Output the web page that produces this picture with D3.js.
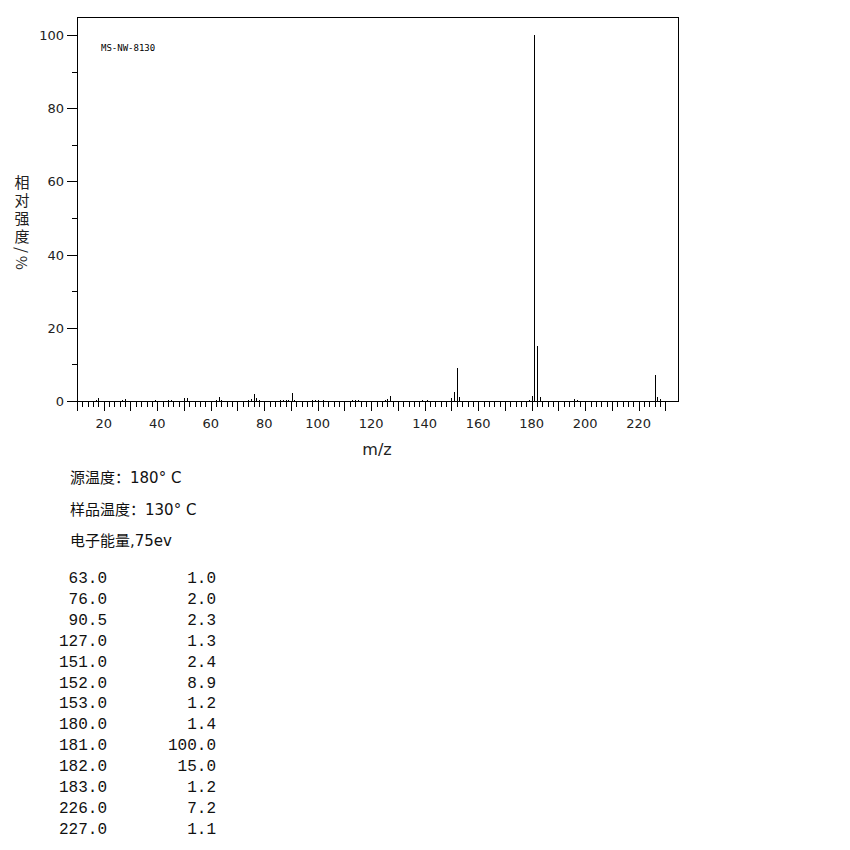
<!DOCTYPE html>
<html><head><meta charset="utf-8">
<script src="https://cdn.jsdelivr.net/npm/d3@7"></script>
<style>body{margin:0;background:#fff}svg{display:block}</style>
</head><body>
<script>
// ---- data ----
const peakMz = [17,18,27,28,39,44,45,50,51,62,63,64,74,75,76,77,78,86,87,88,89,90.5,91,98,99,100,102,113,114,115,125,126,127,139,141,150,151,152,153,179,180,181,182,183,196,197,226,227,228];
const peakInt = [0.3,0.9,0.3,0.5,0.3,0.3,0.3,0.8,0.9,0.3,1.0,0.3,0.3,0.5,2.0,0.7,0.3,0.3,0.3,0.3,0.3,2.3,0.3,0.3,0.3,0.3,0.3,0.3,0.3,0.3,0.3,0.6,1.3,0.3,0.3,0.9,2.4,8.9,1.2,0.3,1.4,100,15.0,1.2,0.5,0.3,7.2,1.1,0.5];
const tableMz = [63.0,76.0,90.5,127.0,151.0,152.0,153.0,180.0,181.0,182.0,183.0,226.0,227.0];
const tableInt = [1.0,2.0,2.3,1.3,2.4,8.9,1.2,1.4,100.0,15.0,1.2,7.2,1.1];
const xTickLabels = [20,40,60,80,100,120,140,160,180,200,220];
const yTickLabels = [0,20,40,60,80,100];
const infoLines = ["源温度：180° C","样品温度：130° C","电子能量,75ev"];
const yLabel = "相对强度/%";
const sampleId = "MS-NW-8130";

const W=850,H=850;
const svg=d3.select("body").append("svg").attr("width",W).attr("height",H);
const L=77,R=678,T=17,B=401;
const x=d3.scaleLinear().domain([10,234.7]).range([L,R]);
const y=d3.scaleLinear().domain([0,100]).range([B,35]);

const tickFont="'DejaVu Sans', sans-serif";
const g=svg.append("g").attr("shape-rendering","crispEdges");

// frame
g.append("rect").attr("x",L+0.5).attr("y",T+0.5).attr("width",R-L).attr("height",B-T)
 .attr("fill","none").attr("stroke","#000").attr("stroke-width",1);

// x ticks
const xMinor=d3.range(10,231,2).filter(v=>v%10!==0);
const xMajor=d3.range(10,231,10);
const px=v=>Math.round(x(v))+0.5;
g.selectAll(".xmin").data(xMinor).join("line")
 .attr("x1",px).attr("x2",px).attr("y1",B).attr("y2",B+6).attr("stroke","#000");
g.selectAll(".xmaj").data(xMajor).join("line")
 .attr("x1",px).attr("x2",px).attr("y1",B).attr("y2",B+10).attr("stroke","#000");
svg.selectAll(".xl").data(xTickLabels).join("text")
 .attr("x",d=>x(d)).attr("y",428).attr("text-anchor","middle")
 .attr("font-family",tickFont).attr("font-size",13).attr("fill","#222").text(d=>d);

// y ticks
const py=v=>Math.round(y(v))+0.5;
g.selectAll(".ymaj").data(yTickLabels).join("line")
 .attr("x1",L-10).attr("x2",L).attr("y1",py).attr("y2",py).attr("stroke","#000");
g.selectAll(".ymin").data([10,30,50,70,90]).join("line")
 .attr("x1",L-5).attr("x2",L).attr("y1",py).attr("y2",py).attr("stroke","#000");
svg.selectAll(".yl").data(yTickLabels).join("text")
 .attr("x",64).attr("y",d=>y(d)+5).attr("text-anchor","end")
 .attr("font-family",tickFont).attr("font-size",13).attr("fill","#222").text(d=>d);

// peaks
g.selectAll(".pk").data(peakMz.map((m,i)=>({m,v:peakInt[i]}))).join("line")
 .attr("x1",d=>px(d.m)).attr("x2",d=>px(d.m))
 .attr("y1",B).attr("y2",d=>Math.round(y(d.v)))
 .attr("stroke","#000").attr("stroke-width",1);

// sample id
svg.append("text").attr("x",101).attr("y",51).attr("font-family","'DejaVu Sans Mono', monospace")
 .attr("font-size",9).attr("fill","#000").text(sampleId);

// axis labels
svg.append("text").attr("x",377).attr("y",455).attr("text-anchor","middle")
 .attr("font-family","'DejaVu Sans', sans-serif").attr("font-size",16).attr("fill","#222").text("m/z");
svg.append("text").attr("x",22).attr("y",175)
 .style("writing-mode","vertical-rl").style("letter-spacing","3px")
 .attr("font-family","'Noto Sans CJK SC', sans-serif").attr("font-size",15).attr("fill","#222").text(yLabel);

// info lines
svg.selectAll(".info").data(infoLines).join("text")
 .attr("x",70).attr("y",(d,i)=>483+i*31.5)
 .attr("font-family","'DejaVu Sans', 'Noto Sans CJK SC', sans-serif").attr("font-size",15).attr("fill","#111").text(d=>d);

// table
const mono="'Liberation Mono', 'Courier New', monospace";
svg.selectAll(".tm").data(tableMz).join("text")
 .attr("x",107).attr("y",(d,i)=>583+i*20.9).attr("text-anchor","end")
 .attr("font-family",mono).attr("font-size",16).attr("fill","#111").text(d=>d.toFixed(1));
svg.selectAll(".ti").data(tableInt).join("text")
 .attr("x",216).attr("y",(d,i)=>583+i*20.9).attr("text-anchor","end")
 .attr("font-family",mono).attr("font-size",16).attr("fill","#111").text(d=>d.toFixed(1));
</script>
</body></html>
